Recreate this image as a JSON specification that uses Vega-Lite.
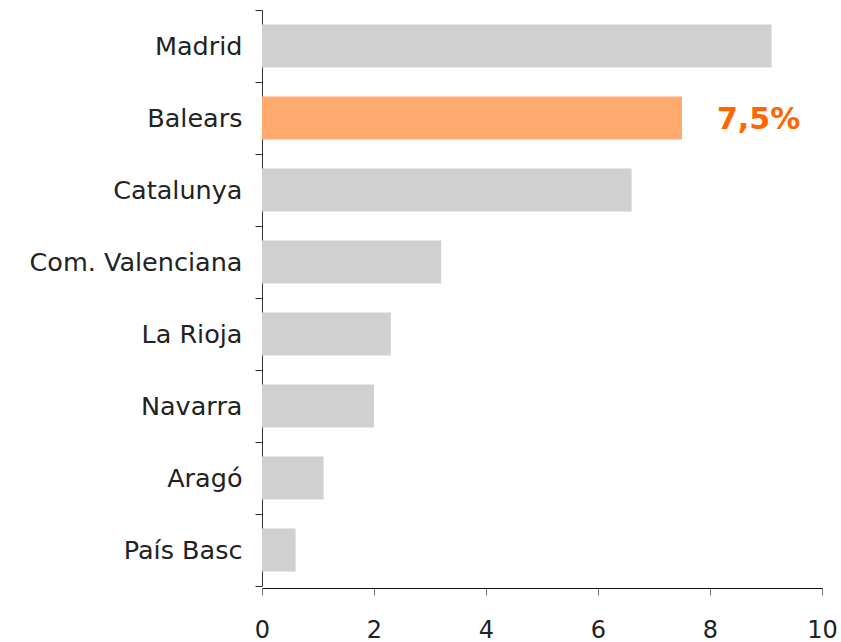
{
  "$schema": "https://vega.github.io/schema/vega-lite/v6.json",
  "autosize": "none",
  "width": 560,
  "height": 576,
  "padding": {"left": 262, "top": 10, "right": 19, "bottom": 56},
  "background": "white",
  "data": {
    "values": [
      {"region": "Madrid", "value": 9.1, "highlight": "no", "label": ""},
      {"region": "Balears", "value": 7.5, "highlight": "yes", "label": "7,5%"},
      {"region": "Catalunya", "value": 6.6, "highlight": "no", "label": ""},
      {"region": "Com. Valenciana", "value": 3.2, "highlight": "no", "label": ""},
      {"region": "La Rioja", "value": 2.3, "highlight": "no", "label": ""},
      {"region": "Navarra", "value": 2.0, "highlight": "no", "label": ""},
      {"region": "Aragó", "value": 1.1, "highlight": "no", "label": ""},
      {"region": "País Basc", "value": 0.6, "highlight": "no", "label": ""}
    ]
  },
  "config": {"view": {"stroke": null}},
  "encoding": {
    "y": {
      "field": "region",
      "type": "nominal",
      "sort": null,
      "scale": {"paddingInner": 0, "paddingOuter": 0},
      "axis": {
        "title": null,
        "tickBand": "extent",
        "tickSize": 7,
        "tickColor": "#333333",
        "domainColor": "#333333",
        "labelFont": "DejaVu Sans",
        "labelFontSize": 25.5,
        "labelColor": "#222222",
        "labelPadding": 13,
        "labelLimit": 400
      }
    },
    "x": {
      "field": "value",
      "type": "quantitative",
      "scale": {"domain": [0, 10], "nice": false},
      "axis": {
        "title": null,
        "values": [0, 2, 4, 6, 8, 10],
        "grid": false,
        "tickSize": 7,
        "tickColor": "#777777",
        "domainColor": "#111111",
        "labelFont": "DejaVu Sans",
        "labelFontSize": 24,
        "labelColor": "#222222",
        "labelPadding": 23,
        "labelFlush": false,
        "offset": 2
      }
    }
  },
  "layer": [
    {
      "mark": {"type": "bar", "cornerRadius": 0, "height": {"band": 0.6}},
      "encoding": {
        "color": {
          "field": "highlight",
          "type": "nominal",
          "scale": {"domain": ["no", "yes"], "range": ["#d0d0d0", "#ffab70"]},
          "legend": null
        }
      }
    },
    {
      "transform": [{"filter": "datum.label != ''"}],
      "mark": {
        "type": "text",
        "align": "left",
        "baseline": "middle",
        "dx": 35,
        "dy": 2,
        "font": "DejaVu Sans",
        "fontSize": 30,
        "fontWeight": "bold",
        "color": "#ff6600"
      },
      "encoding": {"text": {"field": "label"}}
    }
  ]
}
